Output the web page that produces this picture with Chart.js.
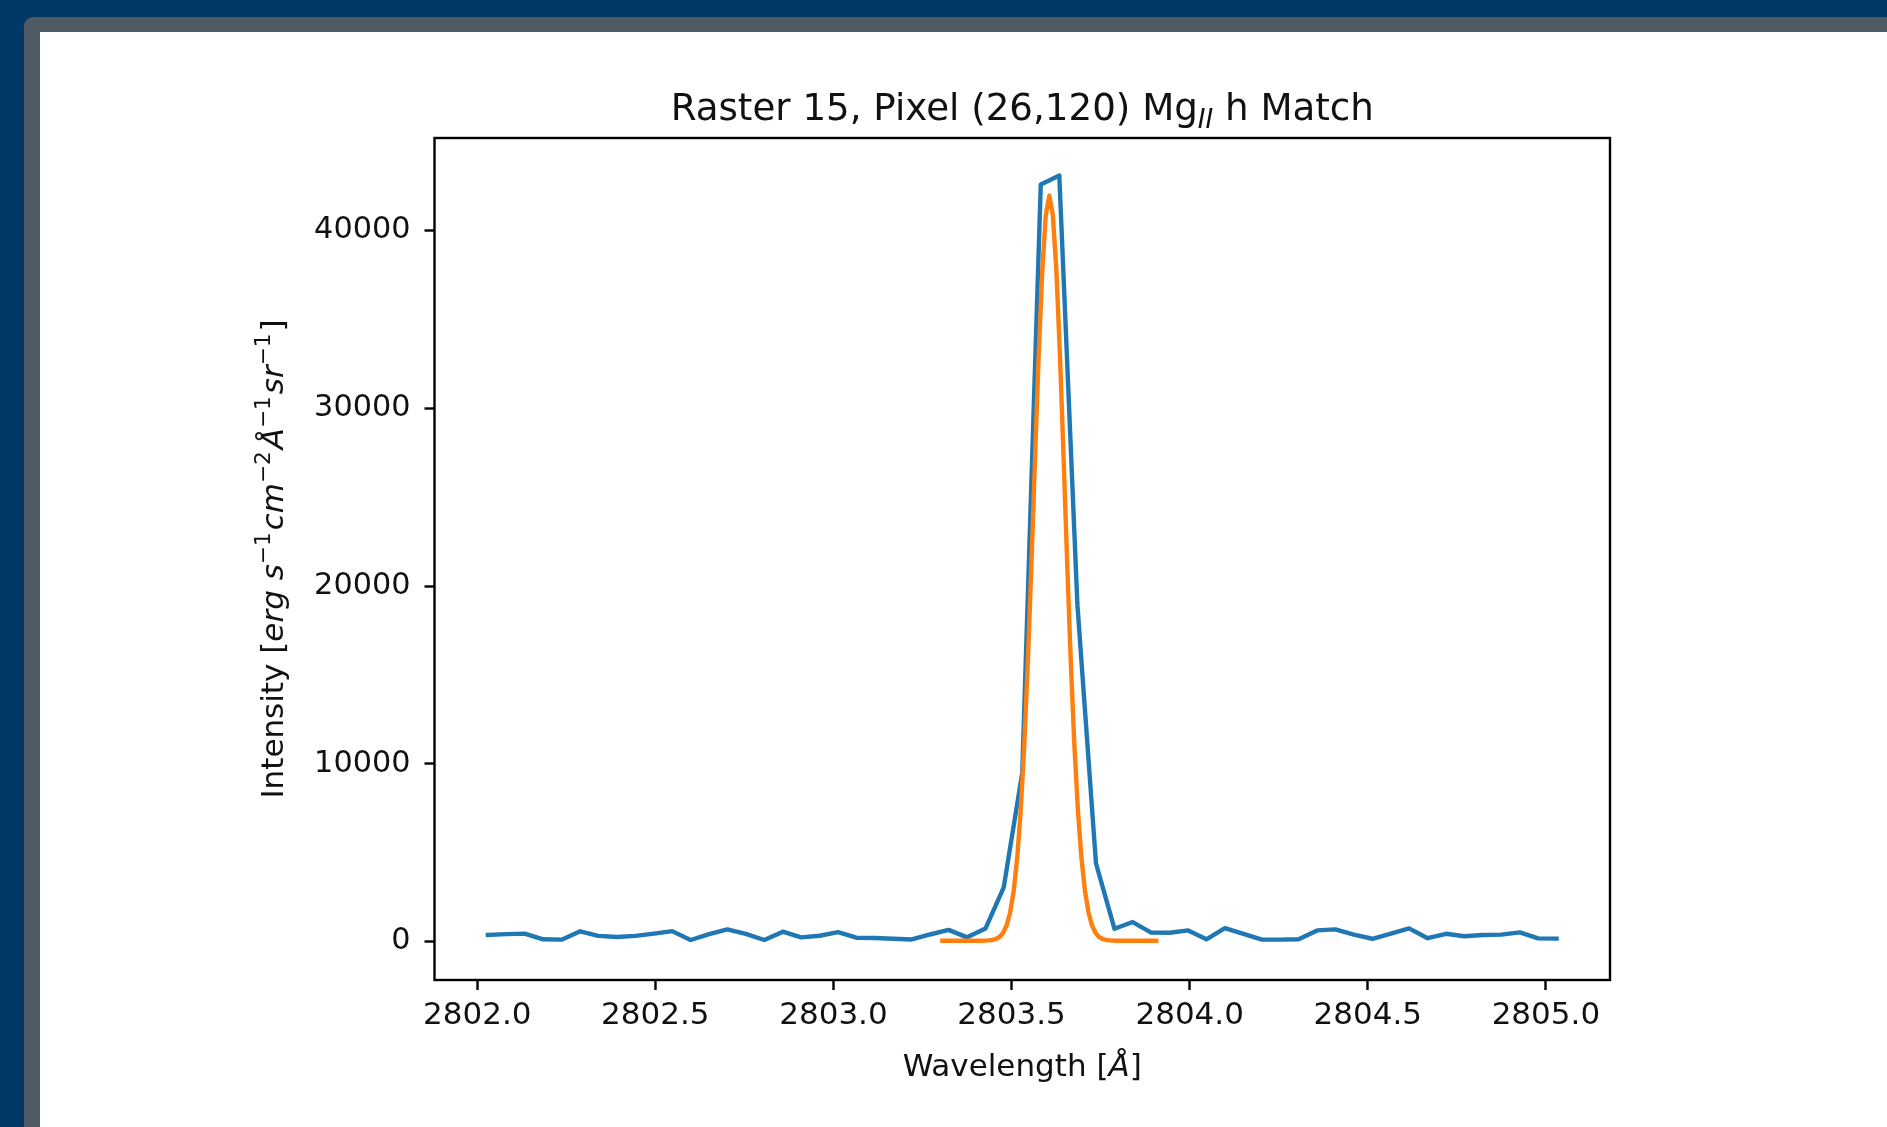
<!DOCTYPE html>
<html>
<head>
<meta charset="utf-8">
<script src="https://cdn.jsdelivr.net/npm/chart.js@4.4.1/dist/chart.umd.min.js"></script>
<style>
  html, body { margin:0; padding:0; }
  body { width:1887px; height:1127px; overflow:hidden; background:#023865; position:relative; }
  #band { position:absolute; left:24px; top:17px; right:0; bottom:0; background:#4e5a64; border-top-left-radius:9px; }
  #panel { position:absolute; left:40px; top:32px; right:0; bottom:0; background:#ffffff; }
  #c { position:absolute; left:0; top:0; }
</style>
</head>
<body>
<div id="band"></div>
<div id="panel"></div>
<canvas id="c" width="1887" height="1127"></canvas>
<script>
// ---- data ----
const blueX = [2802.030, 2802.082, 2802.133, 2802.185, 2802.237, 2802.289, 2802.340, 2802.392, 2802.444, 2802.496,
               2802.547, 2802.599, 2802.651, 2802.702, 2802.754, 2802.806, 2802.858, 2802.909, 2802.961, 2803.013,
               2803.064, 2803.116, 2803.168, 2803.220, 2803.271, 2803.323, 2803.375, 2803.427, 2803.478, 2803.530,
               2803.582, 2803.634, 2803.685, 2803.737, 2803.789, 2803.840, 2803.892, 2803.944, 2803.996, 2804.047,
               2804.099, 2804.151, 2804.203, 2804.254, 2804.306, 2804.358, 2804.409, 2804.461, 2804.513, 2804.565,
               2804.616, 2804.668, 2804.720, 2804.771, 2804.823, 2804.875, 2804.927, 2804.978, 2805.030];
const blueY = [380, 420, 450, 130, 110, 580, 320, 260, 320, 450,
               590, 90, 420, 690, 430, 90, 560, 240, 330, 530,
               220, 200, 160, 120, 400, 660, 240, 740, 3050, 9500,
               42600, 43100, 18900, 4400, 720, 1100, 510, 500, 630, 130,
               760, 430, 110, 110, 130, 630, 690, 390, 160, 450,
               745, 190, 440, 300, 370, 390, 520, 180, 170];
const fitX = [2803.306, 2803.356, 2803.406, 2803.416, 2803.426, 2803.436, 2803.446, 2803.456, 2803.466, 2803.476,
              2803.486, 2803.496, 2803.506, 2803.516, 2803.526, 2803.536, 2803.546, 2803.556, 2803.566, 2803.576,
              2803.586, 2803.596, 2803.606, 2803.616, 2803.626, 2803.636, 2803.646, 2803.656, 2803.666, 2803.676,
              2803.686, 2803.696, 2803.706, 2803.716, 2803.726, 2803.736, 2803.746, 2803.756, 2803.766, 2803.776,
              2803.786, 2803.796, 2803.806, 2803.856, 2803.906];
const fitY = [50, 50, 51, 52, 57, 67, 91, 146, 259, 484,
              903, 1640, 2856, 4740, 7477, 11192, 15887, 21372, 27249, 32915,
              37672, 40851, 41970, 40851, 37672, 32915, 27249, 21372, 15887, 11192,
              7477, 4740, 2856, 1640, 903, 484, 259, 146, 91, 67,
              57, 52, 51, 50, 50];
const xTicks = [2802.0, 2802.5, 2803.0, 2803.5, 2804.0, 2804.5, 2805.0];
const yTicks = [0, 10000, 20000, 30000, 40000];

const titleSegs = [{t:'Raster 15, Pixel (26,120) Mg'}, {t:'II', it:true, sub:true}, {t:' h Match'}];
const xLabelSegs = [{t:'Wavelength ['}, {t:'Å', it:true}, {t:']'}];
const yLabelSegs = [{t:'Intensity ['}, {t:'erg s', it:true}, {t:'−1', sup:true}, {t:'cm', it:true}, {t:'−2', sup:true},
                    {t:'Å', it:true}, {t:'−1', sup:true}, {t:'sr', it:true}, {t:'−1', sup:true}, {t:']'}];

const FONT = '"DejaVu Sans", "Liberation Sans", sans-serif';
const TXT = '#111111';

function drawRich(ctx, segs, cx, baseline, size, rot) {
  ctx.save();
  ctx.translate(cx, baseline);
  if (rot) ctx.rotate(rot);
  ctx.textAlign = 'left';
  ctx.textBaseline = 'alphabetic';
  ctx.fillStyle = TXT;
  let total = 0;
  const parts = segs.map(s => {
    const fs = (s.sup || s.sub) ? size * 0.7 : size;
    const font = (s.it ? 'italic ' : '') + fs + 'px ' + FONT;
    ctx.font = font;
    const w = ctx.measureText(s.t).width + (s.sup ? size * 0.06 : 0);
    total += w;
    return {t: s.t, font, w, dy: s.sup ? -0.42 * size : (s.sub ? 0.22 * size : 0)};
  });
  let x = -total / 2;
  for (const p of parts) {
    ctx.font = p.font;
    ctx.fillText(p.t, x, p.dy);
    x += p.w;
  }
  ctx.restore();
}

const decor = {
  id: 'decor',
  afterDatasetsDraw(chart) {
    const {ctx, chartArea: a} = chart;
    ctx.save();
    ctx.strokeStyle = '#000';
    ctx.lineWidth = 2.4;
    ctx.strokeRect(a.left, a.top, a.right - a.left, a.bottom - a.top);
    ctx.restore();
  },
  afterDraw(chart) {
    const {ctx, chartArea: a} = chart;
    const cx = (a.left + a.right) / 2;
    const cy = (a.top + a.bottom) / 2;
    drawRich(ctx, titleSegs, cx, a.top - 18, 37.2, 0);
    drawRich(ctx, xLabelSegs, cx, a.bottom + 96, 31, 0);
    drawRich(ctx, yLabelSegs, 283, cy, 31, -Math.PI / 2);
  }
};

new Chart(document.getElementById('c'), {
  type: 'line',
  data: {
    datasets: [
      {
        label: 'Observed',
        data: blueX.map((x, i) => ({x, y: blueY[i]})),
        borderColor: '#1f77b4',
        borderWidth: 4.4,
        pointRadius: 0,
        tension: 0,
        fill: false,
        borderJoinStyle: 'round',
        borderCapStyle: 'square',
        order: 1
      },
      {
        label: 'Fit',
        data: fitX.map((x, i) => ({x, y: fitY[i]})),
        borderColor: '#ff7f0e',
        borderWidth: 4.4,
        pointRadius: 0,
        tension: 0,
        fill: false,
        borderJoinStyle: 'round',
        borderCapStyle: 'square',
        order: 0
      }
    ]
  },
  options: {
    responsive: false,
    animation: false,
    devicePixelRatio: 1,
    layout: { padding: { left: 234.5, right: 277, top: 138, bottom: 47 } },
    plugins: { legend: { display: false }, tooltip: { enabled: false }, title: { display: false } },
    scales: {
      x: {
        type: 'linear',
        min: 2801.88,
        max: 2805.18,
        afterFit: s => { s.height = 100; },
        afterBuildTicks: s => { s.ticks = xTicks.map(v => ({value: v})); },
        border: { display: false },
        grid: { display: true, drawOnChartArea: false, drawTicks: true, tickLength: 10, tickWidth: 2.4, tickColor: '#000', color: '#000' },
        ticks: { color: TXT, font: { family: FONT, size: 31 }, padding: 7, maxRotation: 0, autoSkip: false,
                 callback: v => Number(v).toFixed(1) }
      },
      y: {
        type: 'linear',
        min: -2160,
        max: 45210,
        afterFit: s => { s.width = 200; },
        afterBuildTicks: s => { s.ticks = yTicks.map(v => ({value: v})); },
        border: { display: false },
        grid: { display: true, drawOnChartArea: false, drawTicks: true, tickLength: 10, tickWidth: 2.4, tickColor: '#000', color: '#000' },
        ticks: { color: TXT, font: { family: FONT, size: 30.3 }, padding: 14, autoSkip: false,
                 callback: v => String(v) }
      }
    }
  },
  plugins: [decor]
});
</script>
</body>
</html>
